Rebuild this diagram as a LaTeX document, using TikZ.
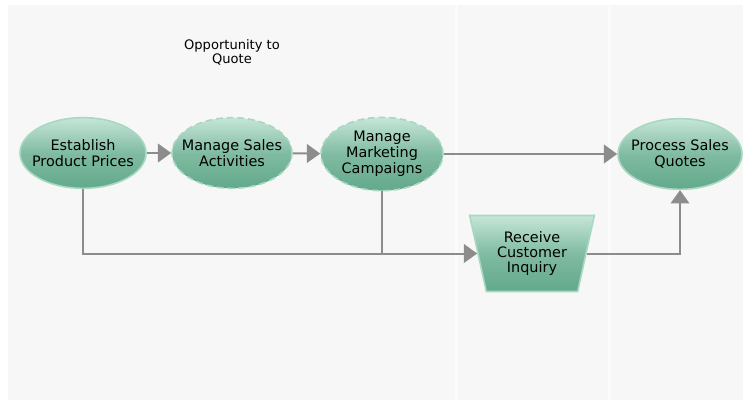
\documentclass[tikz,border=0pt]{standalone}
\usepackage{fontspec}
\setmainfont{DejaVu Sans}
\usetikzlibrary{shapes.geometric,arrows.meta}
\definecolor{bggray}{HTML}{F7F7F7}
\definecolor{band}{HTML}{FBFBFB}
\definecolor{linegray}{HTML}{8C8C8C}
\definecolor{edgegreen}{HTML}{A8D8C2}
\definecolor{fillTop}{HTML}{C6E6D8}
\definecolor{fillBot}{HTML}{62A98B}
\begin{document}
\begin{tikzpicture}[x=0.75pt,y=-0.75pt,
  nodefont/.style={font=\fontsize{10.8}{12}\selectfont},
  proc/.style={ellipse, minimum width=#1, minimum height=53pt, inner sep=0pt,
    top color=fillTop, bottom color=fillBot, middle color=fillBot!70!fillTop,
    draw=edgegreen, line width=1.2pt},
  dproc/.style={proc=#1, dash pattern=on 5pt off 3pt},
  trap/.style={trapezium, shape border rotate=180, trapezium stretches=true,
    trapezium left angle=74, trapezium right angle=74,
    minimum width=94pt, minimum height=57pt, inner sep=0pt,
    top color=fillTop, bottom color=fillBot, middle color=fillBot!70!fillTop,
    draw=edgegreen, line width=1.2pt, align=center,
    font=\fontsize{10.8}{11.4}\selectfont},
  lbl/.style={align=center, font=\fontsize{9.8}{10.6}\selectfont},
  conn/.style={draw=linegray, line width=1.5pt},
  arr/.style={conn, -{Triangle[length=10pt,width=14pt]}}
]
\useasboundingbox (0,0) rectangle (743,400);
\fill[white] (0,0) rectangle (743,400);
\fill[bggray] (8,5) rectangle (743,400);
\fill[band] (455,5) rectangle (458,400);
\fill[band] (608,5) rectangle (611,400);

\node[lbl] (opp) at (232,52) {Opportunity to\\Quote};

\node[proc=94.5pt, label={[nodefont,align=center]center:Establish\\Product Prices}] (epp) at (83,153) {};
\node[dproc=90pt, label={[nodefont,align=center]center:Manage Sales\\Activities}] (msa) at (232,153) {};
\node[dproc=91.5pt, minimum height=55pt, label={[nodefont,align=center]center:Manage\\Marketing\\Campaigns}] (mmc) at (382,154) {};
\node[proc=93pt, label={[nodefont,align=center]center:Process Sales\\Quotes}] (psq) at (680,154) {};
\node[trap] (rci) at (532,253.5) {Receive\\Customer\\Inquiry};

\draw[arr] (epp) -- (msa);
\draw[arr] (msa) -- (mmc);
\draw[arr] (mmc) -- (psq);
\draw[arr] (epp) |- (rci);
\draw[conn] (mmc) -- (mmc |- rci);
\draw[arr] (rci) -| (psq);
\end{tikzpicture}
\end{document}
